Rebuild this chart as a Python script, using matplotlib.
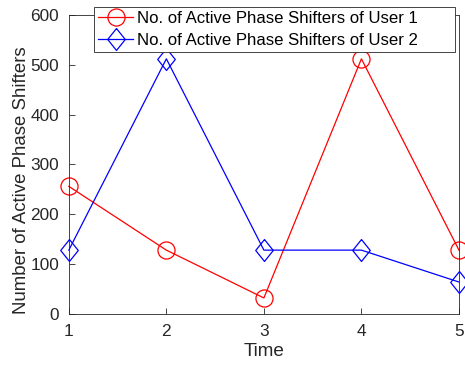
import matplotlib
matplotlib.use('Agg')
import matplotlib.pyplot as plt

plt.rcParams['font.family'] = ['Liberation Sans', 'DejaVu Sans']

time = [1, 2, 3, 4, 5]
user1 = [256, 128, 32, 512, 128]
user2 = [128, 512, 128, 128, 64]
labels = ['No. of Active Phase Shifters of User 1',
          'No. of Active Phase Shifters of User 2']

# tall diamond, a bit narrower than it is high
diamond = [(0, 1), (0.8, 0), (0, -1), (-0.8, 0), (0, 1)]

fig = plt.figure(figsize=(4.65, 3.65), dpi=100)
ax = fig.add_axes([0.148, 0.140, 0.839, 0.819])

ax.plot(time, user1, color='red', marker='o', markersize=12.3, markerfacecolor='none',
        linewidth=0.9, markeredgewidth=0.9, label=labels[0], clip_on=False)
ax.plot(time, user2, color='blue', marker=diamond, markersize=15.8, markerfacecolor='none',
        linewidth=0.9, markeredgewidth=0.9, label=labels[1], clip_on=False)

ax.set_xlim(1, 5)
ax.set_ylim(0, 600)
ax.set_xticks(time)
ax.set_yticks(range(0, 601, 100))
ax.tick_params(direction='in', length=4, width=0.6, labelsize=12.4, colors='#262626')
ax.tick_params(axis='x', pad=7)
ax.tick_params(axis='y', pad=7)
for s in ax.spines.values():
    s.set_linewidth(0.6)
    s.set_color('#262626')
ax.set_xlabel('Time', fontsize=13.6, color='#262626', labelpad=3)
ax.set_ylabel('Number of Active Phase Shifters', fontsize=13.4, color='#262626')
ax.yaxis.set_label_coords(-0.10, 0.448)

leg = ax.legend(loc='upper left', bbox_to_anchor=(0.064, 1.027, 0.926, 0.0), mode='expand',
                fontsize=12.1, fancybox=False, framealpha=1, edgecolor='#262626',
                handlelength=2.1, borderpad=0.25, labelspacing=0.4, handletextpad=0.25,
                borderaxespad=0)
leg.get_frame().set_linewidth(0.6)

fig.savefig('out.png', dpi=100)
